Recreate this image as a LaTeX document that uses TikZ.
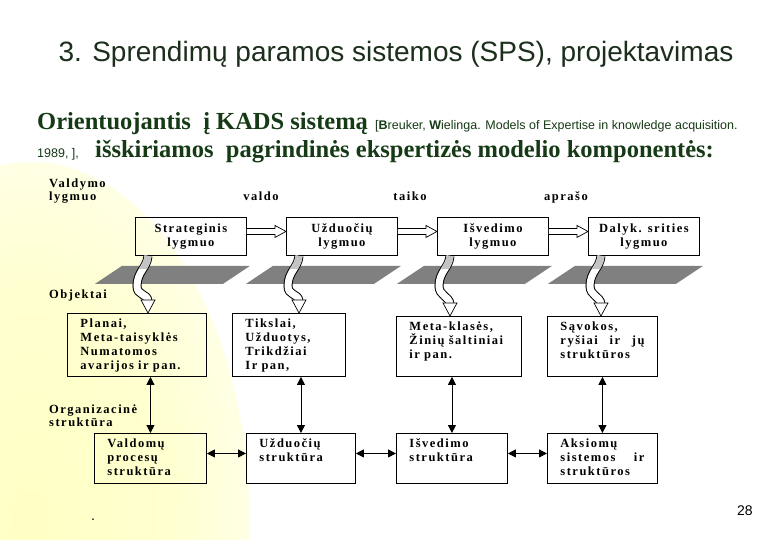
\documentclass[tikz,border=0pt]{standalone}
\usepackage{fontspec}
\usepackage{xcolor}
\usepackage{tikz}
\usetikzlibrary{arrows.meta,positioning,calc}
\setmainfont{Liberation Serif}
\newfontfamily\headfont{Liberation Sans}
\newfontfamily\boxfont[LetterSpace=12]{Liberation Serif}
\definecolor{kadsGreen}{HTML}{163A16}
\definecolor{kadsTitle}{HTML}{1C2E1C}
\definecolor{kadsPlane}{HTML}{808080}
\definecolor{kadsCurl}{HTML}{C4C4C4}
\definecolor{glowYellow}{HTML}{FFFFC4}
\pgfdeclareradialshading{glowshade}{\pgfpoint{0bp}{0bp}}{color(0bp)=(glowYellow); color(16bp)=(glowYellow!80!white); color(24.8bp)=(glowYellow!45!white); color(25bp)=(white); color(50bp)=(white)}
\tikzset{
  levelbox/.style={draw, line width=0.9pt, anchor=north west, align=center, font=\boxfont\bfseries\fontsize{12.5}{13.5}\selectfont, minimum width=111pt, minimum height=38pt, inner sep=2pt},
  objbox/.style={draw, line width=0.9pt, anchor=north west, align=left, font=\boxfont\bfseries\fontsize{12.5}{14}\selectfont, inner xsep=13pt, inner ysep=6pt, text height=8pt},
  sidelbl/.style={anchor=north west, align=left, inner sep=0pt, font=\boxfont\bfseries\fontsize{12.5}{12.5}\selectfont},
  arrlbl/.style={anchor=base, inner sep=0pt, font=\boxfont\bfseries\fontsize{12.5}{12}\selectfont},
  lead/.style={anchor=base west, inner sep=0pt, text=kadsGreen, font=\bfseries\fontsize{24.5}{24.5}\selectfont},
  cite/.style={anchor=base west, inner sep=0pt, text=kadsGreen, font=\headfont\fontsize{12.5}{12.5}\selectfont},
  plane/.style={fill=kadsPlane},
  hollow/.style={draw=black, line width=0.7pt, fill=white, line join=miter},
  arrboth/.style={{Triangle[length=8pt,width=8pt]}-{Triangle[length=8pt,width=8pt]}, line width=0.8pt},
}
% hollow block arrow between two level boxes
\newcommand{\blockarr}[2]{%
  \path ($(#1.east)+(0,-5)$) coordinate (#1-o) (#2.west |- #1-o) coordinate (#2-i);
  \draw[hollow] ($(#1-o)+(0,-3)$) -- ($(#2-i)+(-11,-3)$) -- ($(#2-i)+(-11,-6)$) -- (#2-i)
    -- ($(#2-i)+(-11,6)$) -- ($(#2-i)+(-11,3)$) -- ($(#1-o)+(0,3)$);
}
% curled arrow from a level box down through its plane
\newcommand{\curlarr}[2]{%
  \coordinate (#1-c) at ($(#1.south west)+(13,0)$);
  \coordinate (#1-t) at (#1-c |- #2.north);
  \def\curlpath{(#1-c) .. controls ($(#1-c)+(-1,12)$) and ($(#1-c)+(-11,16)$) .. ($(#1-c)+(-11,30)$)
    .. controls ($(#1-c)+(-11,40)$) and ($(#1-t)+(-1,-20)$) .. ($(#1-t)+(0,-12)$)}
  \draw[line width=9pt, postaction={draw=white, line width=7pt}] \curlpath;
  \begin{scope}
    \clip ($(#1-c)+(-30,0)$) rectangle ($(#1-c)+(30,13)$);
    \draw[draw=kadsCurl, line width=7pt] \curlpath;
  \end{scope}
  \draw[hollow] ($(#1-t)+(-7,-13)$) -- (#1-t) -- ($(#1-t)+(7,-13)$) -- cycle;
}

\begin{document}
\begin{tikzpicture}[x=1pt, y=-1pt]
\useasboundingbox (0,0) rectangle (780,540);
\begin{scope}
  \clip (0,0) rectangle (780,540);
  \fill[white] (0,0) rectangle (780,540);
  \shade[shading=glowshade] (-190,160) rectangle (250,880);
\end{scope}

% heading
\node[anchor=base, inner sep=0pt, text=kadsTitle, font=\headfont\fontsize{28}{28}\selectfont] (title) at (396,62) {3. Sprendimų paramos sistemos (SPS), projektavimas};
\node[lead] (lead1) at (37,130) {Orientuojantis\ \ į KADS sistemą};
\node[cite] (cite1) at (375,130) {[\textbf{B}reuker, \textbf{W}ielinga. Models of Expertise in knowledge acquisition.};
\node[cite] (cite2) at (37,158) {1989, ],};
\node[lead] (lead2) at (95,158) {išskiriamos\ \ pagrindinės ekspertizės modelio komponentės:};

% row labels
\node[sidelbl] (ctl) at (49,179) {Valdymo\\lygmuo};
\node[sidelbl] (obj) at (49,290) {Objektai};
\node[sidelbl] (org) at (49,405) {Organizacinė\\struktūra};

% level row
\node[levelbox] (s1) at (135,217) {Strateginis\\lygmuo};
\node[levelbox] (s2) at (286,217) {Užduočių\\lygmuo};
\node[levelbox] (s3) at (437,217) {Išvedimo\\lygmuo};
\node[levelbox] (s4) at (588,217) {Dalyk. srities\\lygmuo};
\node[arrlbl] (valdo) at (261,201) {valdo};
\node[arrlbl] (taiko) at (410,201) {taiko};
\node[arrlbl] (aprasho) at (566,201) {aprašo};
\blockarr{s1}{s2}
\blockarr{s2}{s3}
\blockarr{s3}{s4}

% object row
\node[objbox, text width=113pt, text depth=43pt] (m1) at (67,313) {Planai,\\Meta-taisyklės\\Numatomos\\avarijos ir pan.};
\node[objbox, text width=87pt, text depth=43pt] (m2) at (232,313) {Tikslai,\\Užduotys,\\Trikdžiai\\Ir pan,};
\node[objbox, text width=99pt, text depth=40pt] (m3) at (396,316) {Meta-klasės,\\Žinių šaltiniai\\ir pan.};
\node[objbox, text width=84pt, text depth=40pt] (m4) at (547,316) {Sąvokos,\\ryšiai\hfill ir\hfill jų\\struktūros};

% planes and curled arrows
\fill[plane] ($(s1.south west)+(-40,28)$) -- ++(128,0) -- ++(27,-18) -- ++(-128,0) -- cycle;
\fill[plane] ($(s2.south west)+(-40,28)$) -- ++(128,0) -- ++(27,-18) -- ++(-128,0) -- cycle;
\fill[plane] ($(s3.south west)+(-40,28)$) -- ++(128,0) -- ++(27,-18) -- ++(-128,0) -- cycle;
\fill[plane] ($(s4.south west)+(-40,28)$) -- ++(128,0) -- ++(27,-18) -- ++(-128,0) -- cycle;
\curlarr{s1}{m1}
\curlarr{s2}{m2}
\curlarr{s3}{m3}
\curlarr{s4}{m4}

% structure row
\node[objbox, text width=86pt, text depth=30pt] (b1) at (94,433) {Valdomų\\procesų\\struktūra};
\node[objbox, text width=83pt, text depth=30pt] (b2) at (246,433) {Užduočių\\struktūra};
\node[objbox, text width=85pt, text depth=30pt] (b3) at (396,433) {Išvedimo\\struktūra};
\node[objbox, text width=84pt, text depth=30pt] (b4) at (547,433) {Aksiomų\\sistemos\hfill ir\\struktūros};
\draw[arrboth] (b1.north |- m1.south) -- (b1.north);
\draw[arrboth] (b2.north |- m2.south) -- (b2.north);
\draw[arrboth] (b3.north |- m3.south) -- (b3.north);
\draw[arrboth] (b4.north |- m4.south) -- (b4.north);
\draw[arrboth] ($(b1.east)+(0,-5)$) -- ($(b2.west)+(0,-5)$);
\draw[arrboth] ($(b2.east)+(0,-5)$) -- ($(b3.west)+(0,-5)$);
\draw[arrboth] ($(b3.east)+(0,-5)$) -- ($(b4.west)+(0,-5)$);

\node[anchor=base, inner sep=0pt, font=\headfont\fontsize{14}{14}\selectfont] (dot) at (93,520) {.};
\node[anchor=base west, inner sep=0pt, font=\headfont\fontsize{14}{14}\selectfont] (pgno) at (737,515) {28};
\end{tikzpicture}
\end{document}
